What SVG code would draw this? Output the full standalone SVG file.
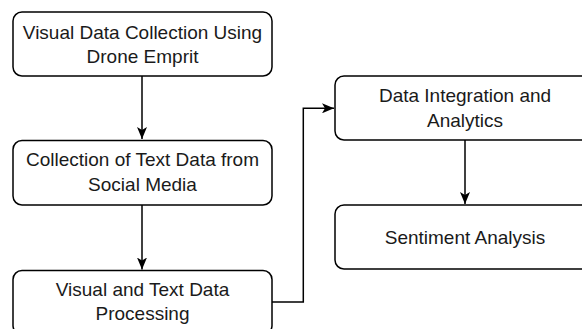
<svg xmlns="http://www.w3.org/2000/svg" width="582" height="329" viewBox="0 0 582 329">
  <style>
    .box { fill: #ffffff; stroke: #000000; stroke-width: 1.5; }
    .label { font-family: "Liberation Sans", Arial, Helvetica, sans-serif; font-size: 19px; fill: #1a1a1a; text-anchor: middle; }
    .edge { fill: none; stroke: #000000; stroke-width: 1.5; }
  </style>
  <defs>
    <marker id="arrow" viewBox="0 0 12 10" refX="12" refY="5" markerWidth="12" markerHeight="10" markerUnits="userSpaceOnUse" orient="auto">
      <path d="M0,0 L12,5 L0,10 L3,5 Z" fill="#000000"/>
    </marker>
  </defs>
  <rect width="582" height="329" fill="#ffffff"/>

  <g id="edges">
    <path class="edge" d="M142,76 V139" marker-end="url(#arrow)"/>
    <path class="edge" d="M142,205 V269.5" marker-end="url(#arrow)"/>
    <path class="edge" d="M272,302 H303.3 V108.3 H334" marker-end="url(#arrow)"/>
    <path class="edge" d="M465,140 V204" marker-end="url(#arrow)"/>
  </g>

  <g id="visual-data-collection">
    <rect class="box" x="13" y="12" width="259" height="64" rx="9"/>
    <text class="label" x="142.5" y="38.5">Visual Data Collection Using</text>
    <text class="label" x="142.5" y="62.7">Drone Emprit</text>
  </g>

  <g id="text-data-collection">
    <rect class="box" x="13" y="140.5" width="259" height="64.5" rx="9"/>
    <text class="label" x="142.5" y="165.5">Collection of Text Data from</text>
    <text class="label" x="142.5" y="190.5">Social Media</text>
  </g>

  <g id="data-processing">
    <rect class="box" x="13" y="270.5" width="259" height="64" rx="9"/>
    <text class="label" x="142.5" y="295.5">Visual and Text Data</text>
    <text class="label" x="142.5" y="319.5">Processing</text>
  </g>

  <g id="integration-analytics">
    <rect class="box" x="335" y="76" width="260" height="64" rx="9"/>
    <text class="label" x="465" y="102.3">Data Integration and</text>
    <text class="label" x="465" y="126.7">Analytics</text>
  </g>

  <g id="sentiment-analysis">
    <rect class="box" x="335" y="205" width="260" height="64" rx="9"/>
    <text class="label" x="465" y="243.8">Sentiment Analysis</text>
  </g>
</svg>
